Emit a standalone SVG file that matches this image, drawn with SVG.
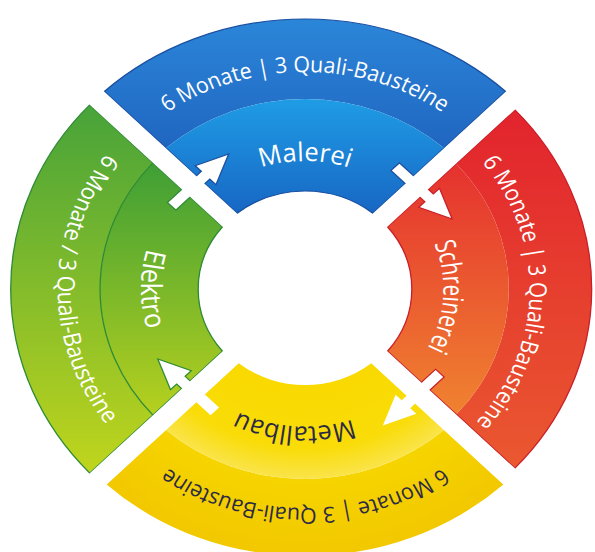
<svg xmlns="http://www.w3.org/2000/svg" width="595" height="552" viewBox="0 0 595 552">
  <defs>
    <!-- band fills, in the ring's own frame (centre at 0,0) -->
    <linearGradient id="blueOuter" gradientUnits="userSpaceOnUse" x1="0" y1="-270" x2="0" y2="-130">
      <stop offset="0" stop-color="#2b86d8"/>
      <stop offset="1" stop-color="#1f63bf"/>
    </linearGradient>
    <linearGradient id="blueInner" gradientUnits="userSpaceOnUse" x1="0" y1="-190" x2="0" y2="-70">
      <stop offset="0" stop-color="#1f9ce5"/>
      <stop offset="1" stop-color="#1764c2"/>
    </linearGradient>
    <linearGradient id="redOuter" gradientUnits="userSpaceOnUse" x1="0" y1="-190" x2="0" y2="190">
      <stop offset="0" stop-color="#e2222d"/>
      <stop offset="1" stop-color="#ea5a30"/>
    </linearGradient>
    <linearGradient id="redInner" gradientUnits="userSpaceOnUse" x1="0" y1="-130" x2="0" y2="130">
      <stop offset="0" stop-color="#e5302f"/>
      <stop offset="1" stop-color="#f08430"/>
    </linearGradient>
    <radialGradient id="yellowInner" gradientUnits="userSpaceOnUse" cx="0" cy="0" r="190">
      <stop offset="0.5" stop-color="#f9d900"/>
      <stop offset="0.84" stop-color="#f9dc08"/>
      <stop offset="1" stop-color="#fae44a"/>
    </radialGradient>
    <radialGradient id="yellowOuter" gradientUnits="userSpaceOnUse" cx="0" cy="0" r="267">
      <stop offset="0.72" stop-color="#f6d400"/>
      <stop offset="1" stop-color="#f2c800"/>
    </radialGradient>
    <linearGradient id="greenOuter" gradientUnits="userSpaceOnUse" x1="0" y1="-190" x2="0" y2="190">
      <stop offset="0" stop-color="#45a23a"/>
      <stop offset="1" stop-color="#c2d61c"/>
    </linearGradient>
    <linearGradient id="greenInner" gradientUnits="userSpaceOnUse" x1="0" y1="-130" x2="0" y2="130">
      <stop offset="0" stop-color="#3c9e36"/>
      <stop offset="1" stop-color="#b8d11e"/>
    </linearGradient>

    <!-- baselines for the curved labels -->
    <path id="tp-b-out" d="M-187.93,-108.5 A217,217 0 0 1 187.93,-108.5"/>
    <path id="tp-b-name" d="M-110.85,-64 A128,128 0 0 1 110.85,-64"/>
    <path id="tp-r-out" d="M103,-178.4 A206,206 0 0 1 103,178.4"/>
    <path id="tp-r-name" d="M63.5,-109.99 A127,127 0 0 1 63.5,109.99"/>
    <path id="tp-y-out" d="M189.66,109.5 A219,219 0 0 1 -189.66,109.5"/>
    <path id="tp-y-name" d="M119.08,68.75 A137.5,137.5 0 0 1 -119.08,68.75"/>
    <path id="tp-g-out" d="M-113.5,-196.59 A227,227 0 0 0 -113.5,196.59"/>
    <path id="tp-g-name" d="M-75.25,-130.33 A150.5,150.5 0 0 0 -75.25,130.33"/>

    <!-- arrow pieces: tail bar and head, drawn across a gap -->
    <rect id="arrow-tail" x="-5.5" y="-28" width="11" height="28"/>
    <path id="arrow-head" d="M-5.5,0 V16 H-13.5 L0,46 L13.5,16 H5.5 V0 Z"/>
  </defs>
  <style>
    .lbl { font-family: "Open Sans", "Noto Sans", "DejaVu Sans", sans-serif; font-weight: normal; }
    .outer { font-size: 22px; }
    .name { font-size: 26px; }
    .light { fill: #ffffff; }
    .dark { fill: #2b2a44; }
    .edge { fill: none; stroke-width: 1.2; stroke-linejoin: miter; }
    .arrow { fill: #ffffff; stroke-width: 1.2; stroke-linejoin: miter; }
    .gap { fill: #ffffff; }
  </style>

  <rect width="595" height="552" fill="#ffffff"/>

  <g transform="translate(305 289) scale(1.09 1)">
    <!-- top segment -->
    <g id="node-malerei">
      <path fill="url(#blueOuter)" d="M-184.08,-197.52 A270,270 0 0 1 184.08,-197.52 L127.46,-140.9 A190,190 0 0 0 -127.46,-140.9 Z"/>
      <path fill="url(#blueInner)" d="M-127.46,-140.9 A190,190 0 0 1 127.46,-140.9 L62.25,-75.69 A98,98 0 0 0 -62.25,-75.69 Z"/>
      <path class="edge" stroke="#1a4fa0" d="M-184.08,-197.52 A270,270 0 0 1 184.08,-197.52 L62.25,-75.69 A98,98 0 0 0 -62.25,-75.69 Z"/>
      <text class="lbl outer light" textLength="269" lengthAdjust="spacingAndGlyphs"><textPath href="#tp-b-out" startOffset="50%" text-anchor="middle">6 Monate | 3 Quali-Bausteine</textPath></text>
      <text class="lbl name light" textLength="82" lengthAdjust="spacingAndGlyphs"><textPath href="#tp-b-name" startOffset="50%" text-anchor="middle">Malerei</textPath></text>
    </g>

    <!-- right segment -->
    <g id="node-schreinerei">
      <path fill="url(#redOuter)" d="M192.57,-179.13 A263,263 0 0 1 192.57,179.13 L138.78,125.34 A187,187 0 0 0 138.78,-125.34 Z"/>
      <path fill="url(#redInner)" d="M138.78,-125.34 A187,187 0 0 1 138.78,125.34 L75.69,62.25 A98,98 0 0 0 75.69,-62.25 Z"/>
      <path class="edge" stroke="#c8202a" d="M192.57,-179.13 A263,263 0 0 1 192.57,179.13 L75.69,62.25 A98,98 0 0 0 75.69,-62.25 Z"/>
      <text class="lbl outer light" textLength="282" lengthAdjust="spacingAndGlyphs"><textPath href="#tp-r-out" startOffset="51%" text-anchor="middle">6 Monate | 3 Quali-Bausteine</textPath></text>
      <text class="lbl name light" textLength="108" lengthAdjust="spacingAndGlyphs"><textPath href="#tp-r-name" startOffset="52.8%" text-anchor="middle">Schreinerei</textPath></text>
    </g>

    <!-- bottom segment -->
    <g id="node-metallbau">
      <path fill="url(#yellowOuter)" d="M181.96,195.4 A267,267 0 0 1 -181.96,195.4 L-127.46,140.9 A190,190 0 0 0 127.46,140.9 Z"/>
      <path fill="url(#yellowInner)" d="M127.46,140.9 A190,190 0 0 1 -127.46,140.9 L-60.83,74.27 A96,96 0 0 0 60.83,74.27 Z"/>
      <text class="lbl outer dark" textLength="268" lengthAdjust="spacingAndGlyphs"><textPath href="#tp-y-out" startOffset="50%" text-anchor="middle">6 Monate | 3 Quali-Bausteine</textPath></text>
      <text class="lbl name dark" textLength="108" lengthAdjust="spacingAndGlyphs"><textPath href="#tp-y-name" startOffset="53.3%" text-anchor="middle">Metallbau</textPath></text>
    </g>

    <!-- left segment -->
    <g id="node-elektro">
      <path fill="url(#greenOuter)" d="M-197.52,184.08 A270,270 0 0 1 -197.52,-184.08 L-139.49,-126.05 A188,188 0 0 0 -139.49,126.05 Z"/>
      <path fill="url(#greenInner)" d="M-139.49,126.05 A188,188 0 0 1 -139.49,-126.05 L-75.69,-62.25 A98,98 0 0 0 -75.69,62.25 Z"/>
      <path class="edge" stroke="#2e8b35" d="M-139.49,126.05 A188,188 0 0 1 -139.49,-126.05"/>
      <path class="edge" stroke="#2e8b35" d="M-197.52,184.08 A270,270 0 0 1 -197.52,-184.08 L-75.69,-62.25 A98,98 0 0 0 -75.69,62.25 Z"/>
      <text class="lbl outer light" textLength="290" lengthAdjust="spacingAndGlyphs"><textPath href="#tp-g-out" startOffset="50%" text-anchor="middle">6 Monate / 3 Quali-Bausteine</textPath></text>
      <text class="lbl name light" textLength="82" lengthAdjust="spacingAndGlyphs"><textPath href="#tp-g-name" startOffset="50%" text-anchor="middle">Elektro</textPath></text>
    </g>

    <!-- clockwise arrows across the gaps: tail in one segment, head in the next -->
    <g id="connectors">
      <g transform="rotate(-135) translate(145 0)">
        <use href="#arrow-tail" class="arrow" stroke="#2e8b35"/>
        <use href="#arrow-head" class="arrow" stroke="#1a4fa0"/>
      </g>
      <g transform="rotate(-45) translate(145 0)">
        <use href="#arrow-tail" class="arrow" stroke="#1a4fa0"/>
        <use href="#arrow-head" class="arrow" stroke="#c8202a"/>
      </g>
      <g transform="rotate(45) translate(147 0)">
        <use href="#arrow-tail" class="arrow" stroke="#c8202a"/>
        <use href="#arrow-head" class="arrow" stroke="none"/>
      </g>
      <g transform="rotate(135) translate(145 0)">
        <use href="#arrow-tail" class="arrow" stroke="none"/>
        <use href="#arrow-head" class="arrow" stroke="#2e8b35"/>
      </g>

      <!-- white separating strips between the segments -->
      <rect class="gap" x="60" y="-9.3" width="240" height="18.6" transform="rotate(-135)"/>
      <rect class="gap" x="60" y="-9.3" width="240" height="18.6" transform="rotate(-45)"/>
      <rect class="gap" x="60" y="-9.3" width="240" height="18.6" transform="rotate(45)"/>
      <rect class="gap" x="60" y="-9.3" width="240" height="18.6" transform="rotate(135)"/>
    </g>
  </g>
</svg>
